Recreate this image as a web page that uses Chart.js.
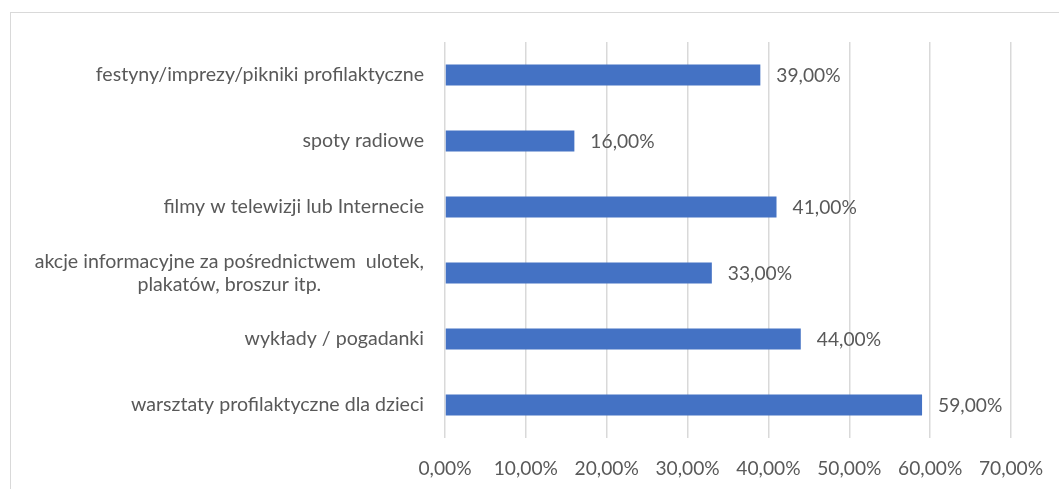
<!DOCTYPE html>
<html>
<head>
<meta charset="utf-8">
<script src="https://cdn.jsdelivr.net/npm/chart.js@4"></script>
<style>
html,body{margin:0;padding:0;background:#fff;}
#wrap{position:relative;width:1059px;height:489px;}
</style>
</head>
<body>
<div id="wrap"><canvas id="c" width="1059" height="489"></canvas></div>
<script>
const categories = [
  ["festyny/imprezy/pikniki profilaktyczne"],
  ["spoty radiowe"],
  ["filmy w telewizji lub Internecie"],
  ["akcje informacyjne za pośrednictwem  ulotek,", "plakatów, broszur itp."],
  ["wykłady / pogadanki"],
  ["warsztaty profilaktyczne dla dzieci"]
];
const values = [39, 16, 41, 33, 44, 59];
const xTicks = [0, 10, 20, 30, 40, 50, 60, 70];

const FONT = 'Lato, "Noto Sans", sans-serif';
const CAT_SIZE = 19.6;
const NUM_SIZE = 19.2;
const TXT = '#595959';

function pct(v){ return v.toFixed(2).replace('.', ',') + '%'; }

const borderPlugin = {
  id: 'frame',
  beforeDraw(chart){
    const ctx = chart.ctx;
    ctx.save();
    ctx.strokeStyle = '#d9d9d9';
    ctx.lineWidth = 1;
    ctx.strokeRect(10.5, 12.5, 1200, 800);
    ctx.restore();
  }
};

const labelsPlugin = {
  id: 'customLabels',
  afterDraw(chart){
    const ctx = chart.ctx;
    const y = chart.scales.y;
    ctx.save();
    ctx.fillStyle = TXT;
    ctx.textBaseline = 'middle';
    // category labels
    ctx.font = CAT_SIZE + 'px ' + FONT;
    const rightX = chart.chartArea.left - 21;
    categories.forEach((lines, i) => {
      const cy = y.getPixelForValue(i);
      if (lines.length === 1) {
        ctx.textAlign = 'right';
        ctx.fillText(lines[0], rightX, cy);
      } else {
        const lh = 23;
        const w1 = ctx.measureText(lines[0]).width;
        const top = cy - lh * (lines.length - 1) / 2;
        ctx.textAlign = 'right';
        ctx.fillText(lines[0], rightX, top);
        ctx.textAlign = 'center';
        for (let k = 1; k < lines.length; k++) {
          ctx.fillText(lines[k], rightX - w1 / 2, top + lh * k);
        }
      }
    });
    // data labels
    ctx.font = NUM_SIZE + 'px ' + FONT;
    const meta = chart.getDatasetMeta(0);
    ctx.textAlign = 'left';
    meta.data.forEach((bar, i) => {
      ctx.fillText(pct(values[i]), bar.x + 16, bar.y + 1);
    });
    ctx.restore();
  }
};

new Chart(document.getElementById('c'), {
  type: 'bar',
  data: {
    labels: categories.map(l => l.join(' ')),
    datasets: [{
      data: values,
      backgroundColor: '#4472C4',
      borderWidth: 0,
      categoryPercentage: 1,
      barPercentage: 0.32
    }]
  },
  options: {
    indexAxis: 'y',
    responsive: false,
    animation: false,
    events: [],
    layout: { padding: { top: 42, right: 48, left: 0, bottom: 0 } },
    plugins: { legend: { display: false }, tooltip: { enabled: false } },
    scales: {
      x: {
        min: 0, max: 70,
        afterBuildTicks(s){ s.ticks = xTicks.map(v => ({ value: v })); },
        afterFit(s){ s.height = 51; s.paddingRight = 10; s.paddingLeft = 0; },
        border: { display: false },
        grid: { color: '#d9d9d9', lineWidth: 1.5, drawTicks: false },
        ticks: {
          padding: 19,
          color: TXT,
          font: { family: FONT, size: NUM_SIZE },
          callback: v => pct(v)
        }
      },
      y: {
        afterFit(s){ s.width = 445; },
        border: { display: false },
        grid: { display: false },
        ticks: { display: false }
      }
    }
  },
  plugins: [borderPlugin, labelsPlugin]
});
</script>
</body>
</html>
